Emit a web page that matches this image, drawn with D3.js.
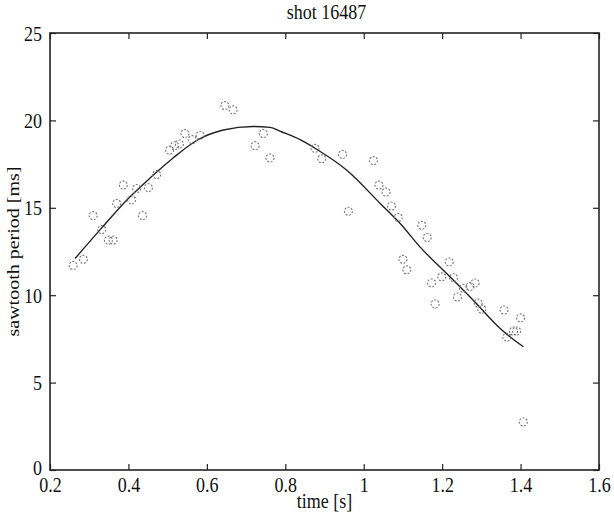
<!DOCTYPE html>
<html>
<head>
<meta charset="utf-8">
<script src="https://cdn.jsdelivr.net/npm/d3@7"></script>
<style>
  body { margin: 0; background: #fff; }
  svg text { font-family: "Liberation Serif", "DejaVu Serif", serif; fill: #111; }
</style>
</head>
<body>
<svg id="chart" width="614" height="519"></svg>
<script>
// measured sawtooth periods (time in s, period in ms)
const timeVals = [0.259, 0.285, 0.310, 0.332, 0.349, 0.361, 0.370, 0.387, 0.408, 0.421,
  0.436, 0.451, 0.472, 0.505, 0.518, 0.530, 0.544, 0.563, 0.583, 0.646, 0.667, 0.723,
  0.744, 0.761, 0.876, 0.893, 0.946, 0.961, 1.025, 1.039, 1.057, 1.071, 1.088, 1.100,
  1.110, 1.148, 1.162, 1.173, 1.182, 1.199, 1.218, 1.229, 1.239, 1.254, 1.271, 1.284,
  1.292, 1.301, 1.358, 1.365, 1.382, 1.390, 1.400, 1.407];
const periodVals = [11.7, 12.05, 14.55, 13.75, 13.15, 13.15, 15.25, 16.3, 15.45, 16.1,
  14.55, 16.15, 16.9, 18.3, 18.55, 18.65, 19.25, 18.9, 19.15, 20.85, 20.6, 18.55,
  19.25, 17.85, 18.4, 17.8, 18.05, 14.8, 17.7, 16.3, 15.9, 15.1, 14.45, 12.05,
  11.45, 14.0, 13.3, 10.7, 9.5, 11.05, 11.9, 11.0, 9.9, 10.4, 10.5, 10.7,
  9.55, 9.2, 9.15, 7.6, 7.95, 7.95, 8.7, 2.75];

// fitted curve
const fitTime = [0.264, 0.328, 0.396, 0.455, 0.514, 0.574, 0.642, 0.718, 0.761, 0.790,
  0.838, 0.880, 0.957, 1.042, 1.093, 1.144, 1.220, 1.284, 1.348, 1.377, 1.407];
const fitPeriod = [12.1, 13.75, 15.45, 16.7, 17.85, 18.85, 19.45, 19.65, 19.6, 19.35,
  18.9, 18.35, 17.15, 15.25, 14.1, 12.75, 11.05, 9.6, 8.1, 7.55, 7.05];

const xTicks = [0.2, 0.4, 0.6, 0.8, 1, 1.2, 1.4, 1.6];
const yTicks = [0, 5, 10, 15, 20, 25];

const margin = {left: 50, right: 15, top: 33, bottom: 49};
const W = 614, H = 519;
const svg = d3.select('#chart');

const x = d3.scaleLinear().domain([0.2, 1.6]).range([margin.left, W - margin.right]);
const y = d3.scaleLinear().domain([0, 25]).range([H - margin.bottom, margin.top]);

// the scanned figure is a little stretched vertically, so text is too
const stretch = 1.2;
const tickLen = 6;

svg.append('g')
    .attr('transform', `translate(0,${y(0)})`)
    .call(d3.axisBottom(x).tickValues(xTicks).tickSizeInner(-tickLen).tickSizeOuter(0)
      .tickFormat(d3.format('')))
    .call(g => g.selectAll('text')
      .attr('font-size', 18)
      .attr('y', 15 / stretch)
      .attr('dy', '0.33em')
      .attr('transform', `scale(1,${stretch})`));
svg.append('g')
    .attr('transform', `translate(0,${y(25)})`)
    .call(d3.axisTop(x).tickValues(xTicks).tickSizeInner(-tickLen).tickSizeOuter(0).tickFormat(''));
svg.append('g')
    .attr('transform', `translate(${x(0.2)},0)`)
    .call(d3.axisLeft(y).tickValues(yTicks).tickSizeInner(-tickLen).tickSizeOuter(0))
    .call(g => g.selectAll('text')
      .attr('font-size', 18)
      .attr('x', -8)
      .attr('dy', '0.33em')
      .attr('transform', `scale(1,${stretch})`));
svg.append('g')
    .attr('transform', `translate(${x(1.6)},0)`)
    .call(d3.axisRight(y).tickValues(yTicks).tickSizeInner(-tickLen).tickSizeOuter(0).tickFormat(''));

svg.selectAll('.domain').remove();
svg.selectAll('.tick line').attr('stroke', '#222').attr('stroke-width', 1.2);
svg.selectAll('.tick text').attr('fill', '#111');
// the zero label sits a touch above the axis
svg.selectAll('.tick text').filter(d => d === 0).attr('dy', '0.2em');

// frame
svg.append('rect')
    .attr('x', x(0.2)).attr('y', y(25))
    .attr('width', x(1.6) - x(0.2)).attr('height', y(0) - y(25))
    .attr('fill', 'none').attr('stroke', '#222').attr('stroke-width', 1.6);

// fit line
const line = d3.line()
    .x(d => x(d[0])).y(d => y(d[1]))
    .curve(d3.curveMonotoneX);
svg.append('path')
    .datum(fitTime.map((t, i) => [t, fitPeriod[i]]))
    .attr('d', line)
    .attr('fill', 'none')
    .attr('stroke', '#222')
    .attr('stroke-width', 1.4);

// measurement markers
svg.append('g').selectAll('circle')
    .data(timeVals.map((t, i) => [t, periodVals[i]]))
    .join('circle')
    .attr('cx', d => x(d[0]))
    .attr('cy', d => y(d[1]))
    .attr('r', 4)
    .attr('fill', 'none')
    .attr('stroke', '#777')
    .attr('stroke-width', 1.1)
    .attr('stroke-dasharray', '2,1.5');

// title and labels
const cx = (x(0.2) + x(1.6)) / 2;
svg.append('text')
    .attr('transform', `translate(${cx + 2},12) scale(1,1.15)`)
    .attr('dy', '0.33em')
    .attr('text-anchor', 'middle').attr('font-size', 18)
    .text('shot 16487');
svg.append('text')
    .attr('transform', `translate(${cx},502) scale(1,1.2)`)
    .attr('dy', '0.3em')
    .attr('text-anchor', 'middle').attr('font-size', 18)
    .text('time [s]');
svg.append('text')
    .attr('transform', `translate(14,${(y(0) + y(25)) / 2}) rotate(-90) scale(1.25,1)`)
    .attr('dy', '0.33em')
    .attr('text-anchor', 'middle').attr('font-size', 16)
    .text('sawtooth period [ms]');
</script>
</body>
</html>
